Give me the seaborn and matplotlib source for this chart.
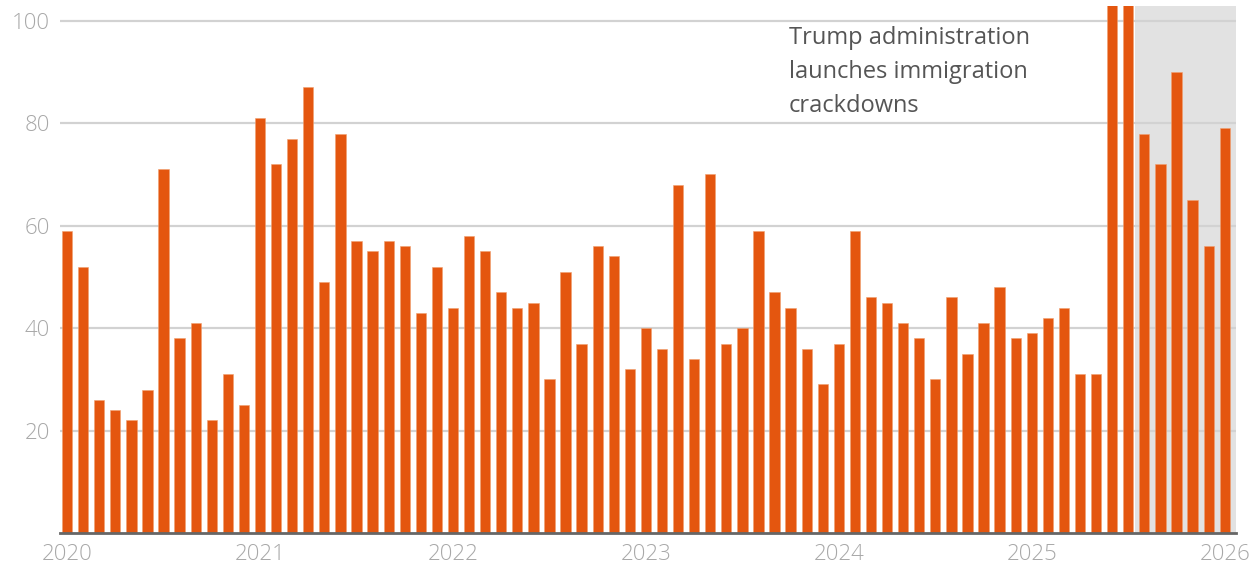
import matplotlib
matplotlib.use("Agg")
import matplotlib.pyplot as plt
import seaborn as sns
import pandas as pd
import numpy as np

# Monthly counts, Jan 2020 - Jan 2026
months = pd.date_range("2020-01-01", "2026-01-01", freq="MS").strftime("%Y-%m").tolist()
values = [
    59, 52, 26, 24, 22, 28, 71, 38, 41, 22, 31, 25,   # 2020
    81, 72, 77, 87, 49, 78, 57, 55, 57, 56, 43, 52,   # 2021
    44, 58, 55, 47, 44, 45, 30, 51, 37, 56, 54, 32,   # 2022
    40, 36, 68, 34, 70, 37, 40, 59, 47, 44, 36, 29,   # 2023
    37, 59, 46, 45, 41, 38, 30, 46, 35, 41, 48, 38,   # 2024
    39, 42, 44, 31, 31, 118, 112, 78, 72, 90, 65, 56, # 2025 (Jun/Jul off-scale)
    79,                                               # 2026
]
year_labels = ["2020", "2021", "2022", "2023", "2024", "2025", "2026"]
y_ticks = [20, 40, 60, 80, 100]
annotation = "Trump administration\nlaunches immigration\ncrackdowns"
shade_start_month = "2025-07"

df = pd.DataFrame({"month": months, "count": values})

sns.set_theme(style="white")
plt.rcParams["font.family"] = ["Open Sans", "DejaVu Sans"]

fig = plt.figure(figsize=(12.57, 5.71), dpi=100)
ax = fig.add_axes([60 / 1257, 1 - 533 / 571, (1236 - 60) / 1257, (533 - 6) / 571])

n = len(months)
shade_idx = months.index(shade_start_month)
ax.axvspan(shade_idx + 0.4, n - 0.3, color="#e2e2e2", zorder=0, lw=0)

for t in y_ticks:
    ax.axhline(t, color="#d2d2d2", lw=1.6, zorder=1)

sns.barplot(data=df, x="month", y="count", color="#E4560F", saturation=1,
            width=0.64, ax=ax, zorder=3, edgecolor="#f0a070", linewidth=0.4)

ax.set_xlim(-0.44, n - 0.3)
ax.set_ylim(0, 102.9)

jan_pos = [months.index(f"{y}-01") for y in year_labels]
ax.set_xticks(jan_pos)
ax.set_xticklabels(year_labels)
ax.set_yticks(y_ticks)
ax.set_yticklabels([str(t) for t in y_ticks])
ax.tick_params(axis="both", length=0, labelsize=16, labelcolor="#a8a8a8")
ax.tick_params(axis="x", pad=8)
ax.tick_params(axis="y", pad=7)
for lab in ax.get_xticklabels() + ax.get_yticklabels():
    lab.set_fontweight("light")
ax.set_xlabel("")
ax.set_ylabel("")

for s in ["top", "right", "left"]:
    ax.spines[s].set_visible(False)
ax.spines["bottom"].set_color("#666666")
ax.spines["bottom"].set_linewidth(2)
ax.spines["bottom"].set_zorder(4)

ax.text(44.9, 99.0, annotation, fontsize=17, color="#555555",
        va="top", ha="left", linespacing=1.55, zorder=5)

fig.savefig("out.png", dpi=100)
